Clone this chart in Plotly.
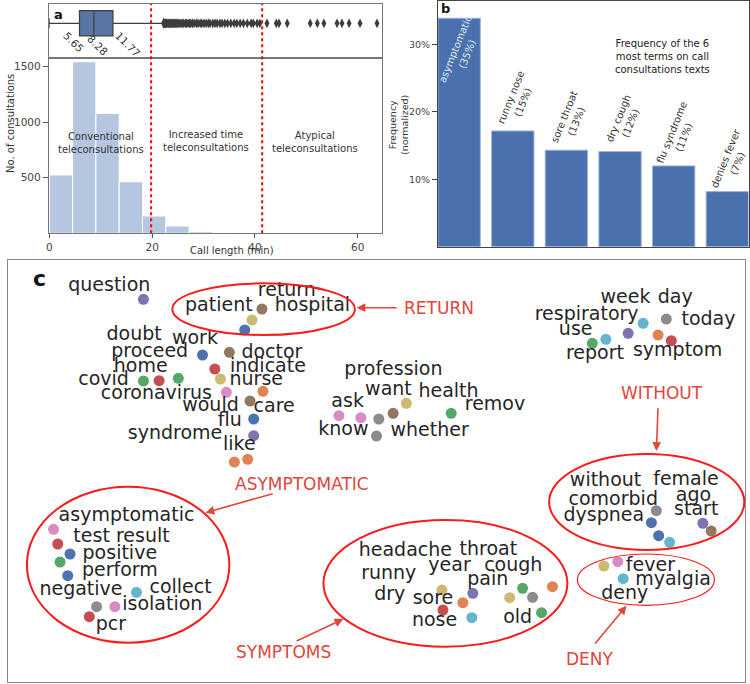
import numpy as np
import plotly.graph_objects as go

W, H = 750, 684
FONT = "DejaVu Sans"

# ---------------- Panel a data ----------------
hist_bin_width = 4.53
hist_counts = [525, 1544, 1080, 464, 156, 66, 14, 4, 2, 1, 1, 1, 1, 1]
thresholds = [19.8, 41.4]
box_q1, box_median, box_q3 = 5.65, 8.28, 11.77
box_lowerfence, box_upperfence = 0.1, 21.0
box_outliers = [21.0, 21.1, 21.2, 21.3, 21.4, 21.5, 21.6, 21.8, 21.9, 22.0, 22.2, 22.3,
                22.5, 22.7, 22.8, 23.0, 23.2, 23.4, 23.6, 23.8, 24.0, 24.2, 24.5, 24.7,
                25.0, 25.2, 25.5, 25.8, 26.0, 26.3, 26.6, 27.0, 27.3, 27.7, 28.0, 28.4,
                28.8, 29.2, 29.5, 30.0, 30.4, 30.8, 31.3, 31.7, 32.2, 32.7, 33.3, 33.9,
                34.4, 35.0, 35.6, 36.3, 37.0, 37.4, 38.1, 38.6, 39.9, 41.6, 42.1, 43.6,
                47.8, 49.1, 50.3, 52.7, 53.6, 54.9, 56.9, 60.0]
region_labels = ["Conventional<br>teleconsultations", "Increased time<br>teleconsultations",
                 "Atypical<br>teleconsultations"]
region_label_x = [10.0, 30.5, 51.7]
region_label_y = [813, 830, 821]

# ---------------- Panel b data ----------------
terms = ["asymptomatic", "runny nose", "sore throat", "dry cough", "flu syndrome", "denies fever"]
term_freq = [0.3385, 0.1715, 0.1430, 0.1409, 0.1197, 0.0816]
term_pct_labels = ["35%", "15%", "13%", "12%", "11%", "7%"]

# ---------------- Panel c data (2-D embedding) ----------------
word_text = ["question", "return", "patient", "hospital", "doubt", "work", "proceed", "doctor",
             "home", "indicate", "covid", "nurse", "coronavirus", "would", "care", "flu",
             "syndrome", "like", "profession", "want", "health", "remov", "ask", "know",
             "whether", "week", "day", "respiratory", "today", "use", "report", "symptom",
             "without", "female", "comorbid", "ago", "dyspnea", "start", "fever", "myalgia",
             "deny", "headache", "throat", "runny", "year", "cough", "pain", "dry", "sore",
             "nose", "old", "asymptomatic", "test result", "positive", "perform", "negative",
             "collect", "isolation", "pcr"]
word_x = [106.7, 285, 216.7, 310.7, 131.7, 192.7, 147.3, 270, 138.3, 266, 101, 254.3, 154,
          208.3, 272.3, 227.7, 172.7, 237.3, 392, 387, 447.3, 494, 346, 341.7, 428.3, 625,
          675, 586, 708.3, 575, 594.3, 677.3, 605, 685.7, 612.7, 693.3, 603.3, 696, 650,
          672.7, 624.3, 404, 487.3, 387.3, 448.3, 512.3, 486.7, 388.3, 431.7, 433.3, 516.7,
          124, 119, 117.3, 117.3, 78.3, 178.3, 160, 108.3]
word_y = [286.7, 291, 306.7, 306.7, 335, 339.3, 352.3, 353.3, 367.7, 367.7, 380.7, 380,
          394.3, 406.7, 407.3, 421.7, 434, 445.7, 370, 390, 392.3, 405.7, 402.3, 430, 431,
          298.3, 298.3, 315, 320, 330.7, 354.3, 351.7, 481.7, 480, 500, 496, 516.7, 510.7,
          566.7, 580, 594.3, 551.7, 550, 574.3, 566.7, 566, 580, 595.7, 599.3, 621.7, 618.3,
          516, 537.7, 554.3, 571.7, 590, 588.3, 605, 625]

dot_x = [141, 260, 250, 242.7, 200.3, 227.3, 212.7, 141, 156.7, 176, 218.3, 224.3, 261, 248,
         251.7, 251.7, 232.3, 245.7, 337.3, 359.3, 377.3, 375, 391.7, 405, 450, 642.7, 666,
         627.7, 657.7, 671, 605.3, 591.7, 656, 651, 658.3, 669.3, 702.7, 711, 603.3, 617.3,
         622.7, 440.7, 471.7, 461.7, 441.7, 470.7, 508.7, 521.7, 531.7, 551.7, 540.7, 50.7,
         55, 67.3, 57.3, 65, 134, 94, 112.3, 86.7]
dot_y = [299.3, 309, 320, 330, 355, 352.3, 369, 381, 380.7, 378.3, 379, 392.3, 391.3, 401,
         419, 435.7, 462, 459.3, 415.7, 417.7, 419, 436, 413.3, 403.3, 413.3, 323.3, 319,
         333.3, 335, 340.7, 339.3, 343.3, 510.7, 522.7, 535.7, 542.3, 523.3, 531, 566,
         561.7, 578.7, 590, 593.3, 602.7, 610, 617.7, 597.7, 588.3, 597.3, 586.7, 612.7,
         529.3, 544, 554, 562, 575.7, 592.3, 606.7, 606.7, 616.7]
dot_cluster = ["purple", "brown", "khaki", "blue", "blue", "brown", "red", "green", "red",
               "green", "khaki", "pink", "orange", "brown", "blue", "purple", "orange",
               "orange", "pink", "pink", "gray", "gray", "brown", "khaki", "green", "cyan",
               "gray", "purple", "orange", "red", "cyan", "green", "gray", "blue", "blue",
               "cyan", "purple", "brown", "khaki", "pink", "cyan", "khaki", "purple",
               "orange", "red", "cyan", "khaki", "green", "gray", "orange", "green", "pink",
               "red", "blue", "green", "blue", "cyan", "gray", "pink", "red"]
palette = {"blue": "#4c72b0", "orange": "#dd8452", "green": "#55a868", "red": "#c44e52",
           "purple": "#8172b3", "brown": "#937860", "pink": "#da8bc3", "gray": "#8c8c8c",
           "khaki": "#ccb974", "cyan": "#64b5cd"}

group_names = ["RETURN", "WITHOUT", "ASYMPTOMATIC", "SYMPTOMS", "DENY"]
group_ellipse = [(170, 283.3, 353.3, 335), (548.3, 454, 744.3, 550), (24, 486.7, 227.3, 642.7),
                 (321.7, 520, 566.7, 646.7), (576.7, 554, 714.3, 605.3)]
group_ellipse_width = [2, 2, 2, 2, 1.2]
group_label_pos = [(437.3, 307.7), (661.7, 392.7), (300, 484.3), (281.7, 652.3), (589.3, 659)]
group_arrow_tail = [(396.7, 307.7), (657.7, 406.7), (272.3, 493.3), (293.3, 641.7), (593.3, 645)]
group_arrow_head = [(355, 307.7), (656, 451), (203.3, 512.7), (341.7, 619), (626, 605.7)]


def px(x):
    return x / W


def py(y):
    return 1 - y / H


def paper_note(x, y, text, size, color, angle=0):
    return dict(x=px(x), y=py(y), xref="paper", yref="paper", text=text, textangle=angle,
                showarrow=False, xanchor="center", yanchor="middle",
                font=dict(family=FONT, size=size, color=color))


fig = go.Figure()

# ---- histogram
centers = (np.arange(len(hist_counts)) + 0.5) * hist_bin_width
fig.add_trace(go.Bar(x=centers, y=hist_counts, width=hist_bin_width,
                     marker=dict(color="#b5c6e1", line=dict(color="white", width=1)),
                     xaxis="x", yaxis="y", hoverinfo="skip"))

# ---- box plot
fig.add_trace(go.Box(y=[0], q1=[box_q1], median=[box_median], q3=[box_q3],
                     lowerfence=[box_lowerfence], upperfence=[box_upperfence],
                     orientation="h", width=1.31, whiskerwidth=0.4, boxpoints=False,
                     fillcolor="#5975a4", line=dict(color="#3f3f3f", width=1.2),
                     xaxis="x2", yaxis="y2"))
fig.add_trace(go.Scatter(x=box_outliers, y=[0] * len(box_outliers), mode="markers",
                         marker=dict(symbol="diamond-tall", size=7, color="#3d3d3d"),
                         xaxis="x2", yaxis="y2", hoverinfo="skip"))

# ---- term bars
fig.add_trace(go.Bar(x=list(range(len(terms))), y=term_freq, width=0.79,
                     marker=dict(color="#4a70ae", line=dict(color="#9fb5dc", width=1)),
                     xaxis="x3", yaxis="y3", hoverinfo="skip"))

# ---- word embedding
fig.add_trace(go.Scatter(x=dot_x, y=dot_y, mode="markers",
                         marker=dict(size=11, color=[palette[c] for c in dot_cluster]),
                         xaxis="x4", yaxis="y4", hoverinfo="skip", cliponaxis=False))
fig.add_trace(go.Scatter(x=word_x, y=word_y, mode="text", text=word_text,
                         textposition="middle center",
                         textfont=dict(family=FONT, size=19, color="#262626"),
                         xaxis="x4", yaxis="y4", hoverinfo="skip", cliponaxis=False))

shapes = []
annotations = []

# threshold lines
for t in thresholds:
    shapes.append(dict(type="line", xref="x", yref="paper", x0=t, x1=t,
                       y0=py(233.3), y1=py(4), line=dict(color="red", width=2, dash="dot")))

# ellipses
for (x0, y0, x1, y1), lw in zip(group_ellipse, group_ellipse_width):
    shapes.append(dict(type="circle", xref="x4", yref="y4", x0=x0, y0=y0, x1=x1, y1=y1,
                       line=dict(color="#ff1a1a", width=lw)))

RED = "#e0463c"
for name, (lx, ly), (tx, ty), (hx, hy) in zip(group_names, group_label_pos,
                                               group_arrow_tail, group_arrow_head):
    annotations.append(dict(x=lx, y=ly, xref="x4", yref="y4", text=name, showarrow=False,
                            xanchor="center", yanchor="middle",
                            font=dict(family=FONT, size=17, color=RED)))
    annotations.append(dict(x=hx, y=hy, xref="x4", yref="y4", ax=tx, ay=ty,
                            axref="x4", ayref="y4", text="", showarrow=True,
                            arrowhead=2, arrowsize=1.1, arrowwidth=1.6, arrowcolor=RED,
                            standoff=0, startstandoff=0))

# panel a texts
for txt, x, y in zip(region_labels, region_label_x, region_label_y):
    annotations.append(dict(x=x, y=y, xref="x", yref="y", text=txt, showarrow=False,
                            xanchor="center", yanchor="middle",
                            font=dict(family=FONT, size=10, color="#333")))
for val, (x, y) in zip([box_q1, box_median, box_q3], [(71, 42), (95, 45), (125, 44)]):
    annotations.append(paper_note(x, y, f"{val:.2f}", 10.5, "#333", angle=45))
annotations.append(paper_note(7, 123, "No. of consultations", 10, "#333", angle=-90))
annotations.append(paper_note(229.7, 250.7, "Call length (min)", 10, "#333"))
annotations.append(paper_note(55.7, 15, "<b>a</b>", 13, "#111"))

# panel b texts
for i, (term, pct, f) in enumerate(zip(terms, term_pct_labels, term_freq)):
    inside = i == 0
    annotations.append(dict(x=i, y=f, xref="x3", yref="y3",
                            text=f"{term}<br>({pct})", textangle=-68, showarrow=False,
                            xanchor="center", yanchor="middle",
                            xshift=2 if inside else 4, yshift=-34 if inside else 31,
                            font=dict(family=FONT, size=10,
                                      color="#dfe6f2" if inside else "#333")))
annotations.append(paper_note(661.7, 56,
                              "Frequency of the 6<br>most terms on call<br>consultations texts",
                              10, "#222"))
annotations.append(paper_note(397.5, 125, "Frequency<br>(normalized)", 9.5, "#333", angle=-90))
annotations.append(paper_note(444.3, 8.3, "<b>b</b>", 13, "#111"))

# panel c label
annotations.append(paper_note(36.7, 278.3, "<b>c</b>", 22, "#111"))

tick_font = dict(family=FONT, size=10.5, color="#444")
tick_font_b = dict(family=FONT, size=9.5, color="#444")
frame_a = dict(showline=True, mirror=True, linecolor="#777", linewidth=1, showgrid=False,
               zeroline=False)

fig.update_layout(
    width=W, height=H, autosize=False, margin=dict(l=0, r=0, t=0, b=0),
    paper_bgcolor="white", plot_bgcolor="white", showlegend=False,
    font=dict(family=FONT),
    xaxis=dict(domain=[px(46), px(381)], range=[-0.1, 64.8], tickvals=[0, 20, 40, 60],
               ticks="outside", ticklen=4, tickcolor="#555", tickfont=tick_font,
               anchor="y", **frame_a),
    yaxis=dict(domain=[py(233.3), py(58)], range=[0, 1578], tickvals=[500, 1000, 1500],
               ticks="outside", ticklen=5, tickcolor="#555", tickfont=tick_font,
               anchor="x", **frame_a),
    xaxis2=dict(domain=[px(46), px(381)], range=[0.05, 61], showticklabels=False, ticks="",
                anchor="y2", **frame_a),
    yaxis2=dict(domain=[py(58), py(4)], range=[-1.8, 1.0], showticklabels=False, ticks="",
                anchor="x2", **frame_a),
    xaxis3=dict(domain=[px(436.7), px(748.5)], range=[-0.395, 5.395], showticklabels=False,
                ticks="", anchor="y3", showline=True, mirror=True, linecolor="#444",
                showgrid=False, zeroline=False),
    yaxis3=dict(domain=[py(246.7), py(1)], range=[0, 0.364], tickvals=[0.1, 0.2, 0.3],
                tickformat=".0%", ticks="outside", ticklen=5, tickcolor="#444",
                tickfont=tick_font_b, anchor="x3", showline=True, mirror=True,
                linecolor="#444", showgrid=False, zeroline=False),
    xaxis4=dict(domain=[px(5), px(745)], range=[5, 745], showticklabels=False, ticks="",
                anchor="y4", showline=True, mirror=True, linecolor="#888",
                showgrid=False, zeroline=False),
    yaxis4=dict(domain=[py(682), py(260)], range=[682, 260], showticklabels=False, ticks="",
                anchor="x4", showline=True, mirror=True, linecolor="#888",
                showgrid=False, zeroline=False),
    shapes=shapes, annotations=annotations,
)

fig.write_html("out.html", config={"displayModeBar": False},
               post_script="document.body.style.margin='0px';"
                           "document.body.style.overflow='hidden';")
